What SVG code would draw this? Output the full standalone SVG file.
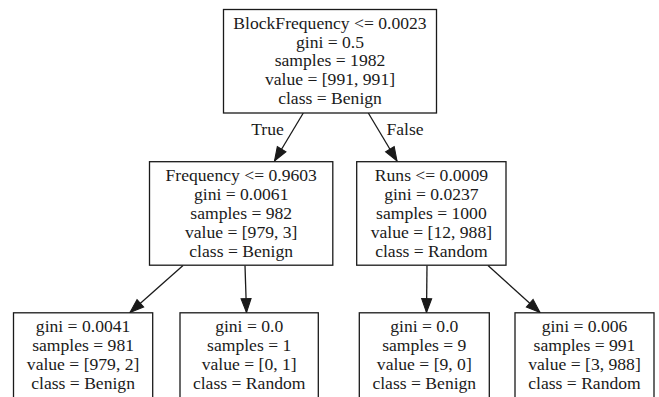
<svg xmlns="http://www.w3.org/2000/svg" width="659" height="397" viewBox="0 0 659 397">
<style>
.box{fill:#fff;stroke:#1a1a1a;stroke-width:1.3}
text{font-family:"Liberation Serif","Times New Roman",serif;font-size:17.6px;fill:#1a1a1a;text-anchor:middle}
.edge{stroke:#1a1a1a;stroke-width:1.3;fill:none}
</style>
<defs>
<marker id="ah" markerWidth="14" markerHeight="10" viewBox="0 0 13 9.4" refX="13" refY="4.7" orient="auto" markerUnits="userSpaceOnUse" style="overflow:visible">
<path d="M0,0 L13,4.7 L0,9.4 z" fill="#1a1a1a" stroke="#1a1a1a" stroke-width="1"/>
</marker>
</defs>
<rect width="659" height="397" fill="#fff"/>
<g id="edges">
<line class="edge" x1="303.3" y1="113" x2="274.5" y2="161" marker-end="url(#ah)"/>
<line class="edge" x1="368.3" y1="113" x2="397" y2="161" marker-end="url(#ah)"/>
<line class="edge" x1="183" y1="265.5" x2="130" y2="312.5" marker-end="url(#ah)"/>
<line class="edge" x1="245" y1="265.5" x2="246.5" y2="312.5" marker-end="url(#ah)"/>
<line class="edge" x1="427" y1="265.5" x2="426.5" y2="312.5" marker-end="url(#ah)"/>
<line class="edge" x1="488" y1="265.5" x2="540" y2="312.5" marker-end="url(#ah)"/>
<text x="267.5" y="135">True</text>
<text x="405" y="135">False</text>
</g>
<g id="root">
<rect class="box" x="223.5" y="9.5" width="213" height="103.5"/>
<text x="330" y="28.6">BlockFrequency &lt;= 0.0023</text>
<text x="330" y="47.5">gini = 0.5</text>
<text x="330" y="66.4">samples = 1982</text>
<text x="330" y="85.3">value = [991, 991]</text>
<text x="330" y="104.2">class = Benign</text>
</g>
<g id="n1">
<rect class="box" x="149.5" y="161.7" width="183.3" height="103.5"/>
<text x="241.2" y="181">Frequency &lt;= 0.9603</text>
<text x="241.2" y="199.9">gini = 0.0061</text>
<text x="241.2" y="218.8">samples = 982</text>
<text x="241.2" y="237.7">value = [979, 3]</text>
<text x="241.2" y="256.6">class = Benign</text>
</g>
<g id="n4">
<rect class="box" x="356.7" y="161.7" width="149.3" height="103.5"/>
<text x="431.4" y="181">Runs &lt;= 0.0009</text>
<text x="431.4" y="199.9">gini = 0.0237</text>
<text x="431.4" y="218.8">samples = 1000</text>
<text x="431.4" y="237.7">value = [12, 988]</text>
<text x="431.4" y="256.6">class = Random</text>
</g>
<g id="n2">
<rect class="box" x="13.5" y="312.8" width="139.2" height="100"/>
<text x="83.1" y="332.1">gini = 0.0041</text>
<text x="83.1" y="351">samples = 981</text>
<text x="83.1" y="369.9">value = [979, 2]</text>
<text x="83.1" y="388.8">class = Benign</text>
</g>
<g id="n3">
<rect class="box" x="180" y="312.8" width="138.3" height="100"/>
<text x="249.2" y="332.1">gini = 0.0</text>
<text x="249.2" y="351">samples = 1</text>
<text x="249.2" y="369.9">value = [0, 1]</text>
<text x="249.2" y="388.8">class = Random</text>
</g>
<g id="n5">
<rect class="box" x="359.3" y="312.8" width="130" height="100"/>
<text x="424.3" y="332.1">gini = 0.0</text>
<text x="424.3" y="351">samples = 9</text>
<text x="424.3" y="369.9">value = [9, 0]</text>
<text x="424.3" y="388.8">class = Benign</text>
</g>
<g id="n6">
<rect class="box" x="515" y="312.8" width="139" height="100"/>
<text x="584.5" y="332.1">gini = 0.006</text>
<text x="584.5" y="351">samples = 991</text>
<text x="584.5" y="369.9">value = [3, 988]</text>
<text x="584.5" y="388.8">class = Random</text>
</g>
</svg>
